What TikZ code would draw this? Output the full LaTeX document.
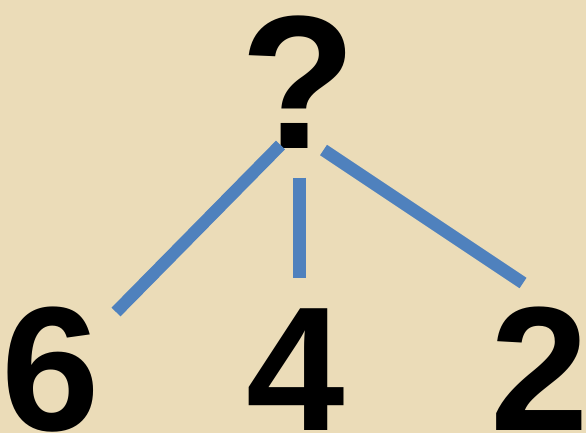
\documentclass[tikz,border=0pt]{standalone}
\usepackage{fontspec}
\setmainfont{Liberation Sans}
\definecolor{parchment}{HTML}{EBDCB8}
\definecolor{linkblue}{HTML}{4F81BD}
\begin{document}
\begin{tikzpicture}[x=1pt,y=-1pt,
  bigtext/.style={inner sep=0pt, anchor=base, text=black},
  qtext/.style={bigtext, font=\fontsize{190}{190}\selectfont\bfseries},
  numtext/.style={bigtext, font=\fontsize{177}{177}\selectfont\bfseries},
  link/.style={draw=linkblue, line width=12.5pt}]
\useasboundingbox (0,0) rectangle (586,433);
\clip (0,0) rectangle (586,433);
\fill[parchment] (0,0) rectangle (586,433);
% the question mark and the numbers
\node[qtext] (q) at (299,149) {?};
\node[numtext] (six) at (51,430) {6};
\node[numtext] (four) at (295.5,430) {4};
\node[numtext] (two) at (539.5,430) {2};
% connector ends
\coordinate (qL) at (280.5,145);
\coordinate (qM) at (299.5,177.5);
\coordinate (qR) at (323.5,150);
\coordinate (sixT) at (116,312);
\coordinate (fourT) at (299.5,278);
\coordinate (twoT) at (523,283);
\draw[link] (qL) -- (sixT);
\draw[link] (qM) -- (fourT);
\draw[link] (qR) -- (twoT);
\end{tikzpicture}
\end{document}
